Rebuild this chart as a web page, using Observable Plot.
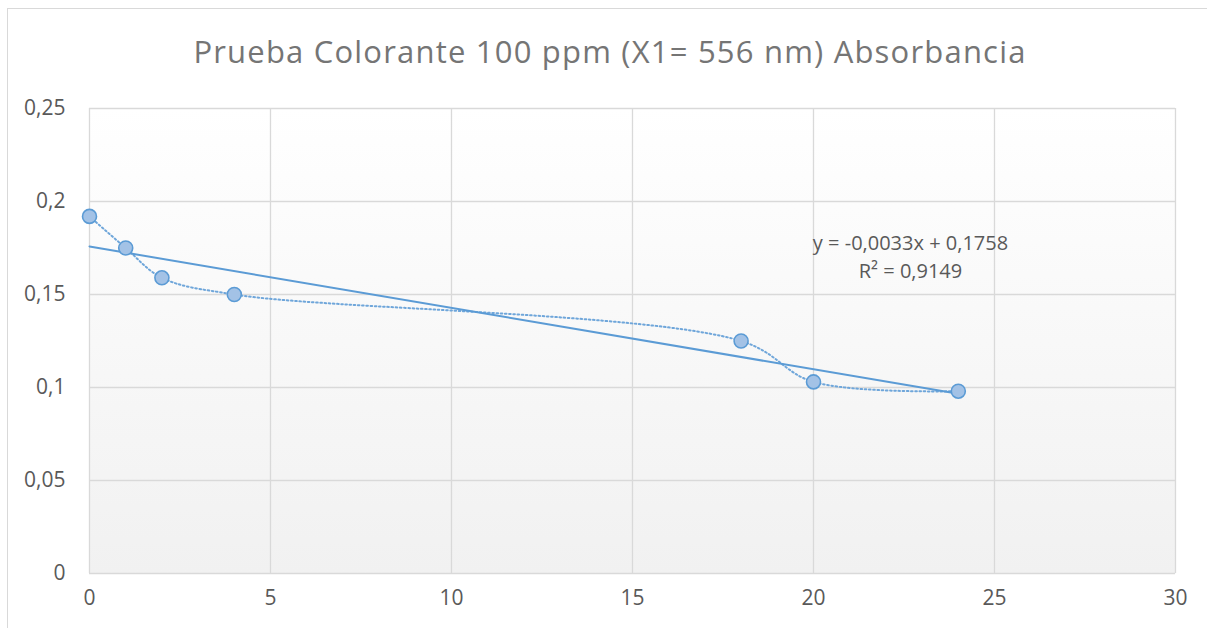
<!DOCTYPE html>
<html><head><meta charset="utf-8">
<script src="https://cdn.jsdelivr.net/npm/d3@7"></script>
<script src="https://cdn.jsdelivr.net/npm/@observablehq/plot@0.6"></script>
<style>
html,body{margin:0;padding:0;background:#fff;overflow:hidden;width:1207px;height:628px}
#border{position:absolute;left:7px;top:8px;width:1240px;height:660px;border:1px solid #d9d9d9;box-sizing:border-box}
#title{position:absolute;left:0;top:36px;width:1220px;text-align:center;font-family:"Open Sans",sans-serif;font-size:31px;letter-spacing:1.2px;line-height:1;color:#757575;white-space:nowrap}
#plot{position:absolute;left:0;top:90px}
</style></head>
<body>
<div id="border"></div>
<div id="title">Prueba Colorante 100 ppm (X1= 556 nm) Absorbancia</div>
<div id="plot"></div>
<script>
const times = [0, 1, 2, 4, 18, 20, 24];
const absorbance = [0.192, 0.175, 0.159, 0.150, 0.125, 0.103, 0.098];
const slope = -0.0033;
const intercept = 0.1758;
const eqLabel = "y = -0,0033x + 0,1758";
const r2Label = "R² = 0,9149";
const xTicks = [0, 5, 10, 15, 20, 25, 30];
const yTicks = [0, 0.05, 0.1, 0.15, 0.2, 0.25];

const points = times.map((t, i) => ({x: t, y: absorbance[i]}));
const [x0, x1] = d3.extent(times);
const trend = [x0, x1].map(t => ({x: t, y: intercept + slope * t}));
const blue = "#5b9bd5";
const fmt = d => String(d).replace(".", ",");

const chart = Plot.plot({
  width: 1207,
  height: 538,
  marginLeft: 89,
  marginRight: 32,
  marginTop: 18,
  marginBottom: 55,
  style: {fontFamily: "'Open Sans', sans-serif", fontSize: "21px", color: "#595959", background: "transparent"},
  x: {domain: [0, 30], label: null},
  y: {domain: [0, 0.25], label: null},
  marks: [
    Plot.frame({fill: "url(#bg)", stroke: "none"}),
    Plot.gridX(xTicks, {stroke: "#d9d9d9", strokeOpacity: 1, strokeWidth: 1.3}),
    Plot.gridY(yTicks, {stroke: "#d9d9d9", strokeOpacity: 1, strokeWidth: 1.3}),
    Plot.axisX(xTicks, {tickSize: 0, tickPadding: 17, fontSize: 21, fill: "#595959", label: null}),
    Plot.axisY(yTicks, {tickSize: 0, tickPadding: 24, fontSize: 21, fill: "#595959", tickFormat: fmt, label: null}),
    Plot.line(points, {x: "x", y: "y", curve: "catmull-rom", stroke: "#6fa6da", strokeWidth: 2, strokeDasharray: "1.6 2.6"}),
    Plot.line(trend, {x: "x", y: "y", stroke: blue, strokeWidth: 2}),
    Plot.dot(points, {x: "x", y: "y", r: 7, fill: "#a3c2e6", stroke: blue, strokeWidth: 1.6}),
    Plot.text([eqLabel], {frameAnchor: "top-right", dx: -265, dy: 135, textAnchor: "middle", lineAnchor: "middle", fontSize: 20, fill: "#595959"}),
    Plot.text([r2Label], {frameAnchor: "top-right", dx: -265, dy: 163, textAnchor: "middle", lineAnchor: "middle", fontSize: 20, fill: "#595959"})
  ]
});
const ns = "http://www.w3.org/2000/svg";
const defs = document.createElementNS(ns, "defs");
defs.innerHTML = '<linearGradient id="bg" x1="0" y1="0" x2="0" y2="1"><stop offset="0" stop-color="#ffffff"/><stop offset="1" stop-color="#f1f1f1"/></linearGradient>';
chart.prepend(defs);
document.getElementById("plot").appendChild(chart);
</script>
</body></html>
